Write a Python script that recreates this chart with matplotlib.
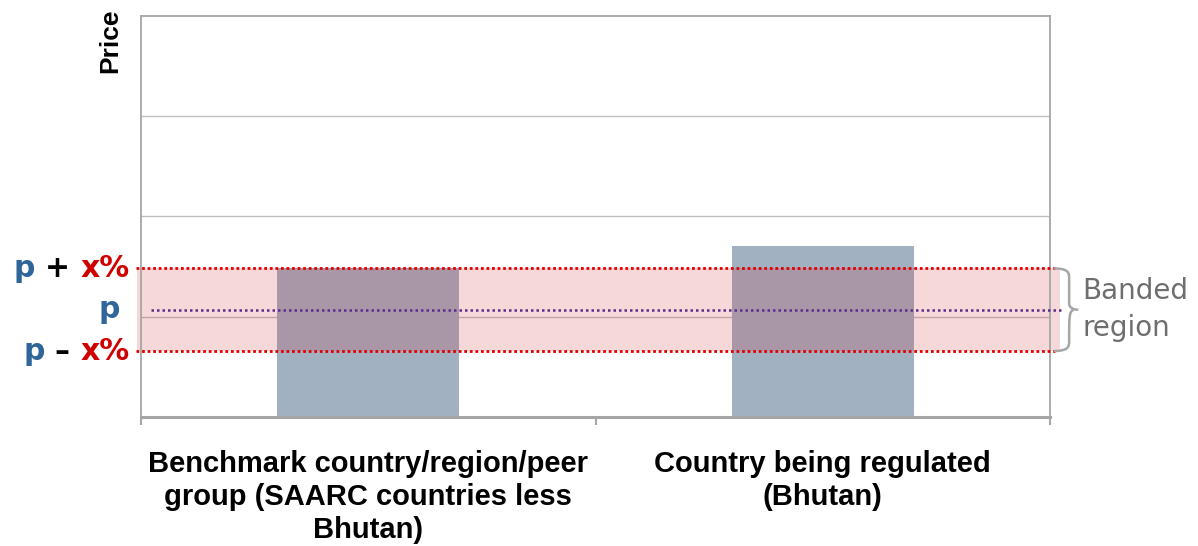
import matplotlib
matplotlib.use("Agg")
import matplotlib.pyplot as plt
import matplotlib.transforms as mtransforms
from matplotlib.path import Path
from matplotlib.patches import PathPatch, Rectangle

# Data
categories = ["Benchmark country/region/peer\ngroup (SAARC countries less\nBhutan)",
              "Country being regulated\n(Bhutan)"]
prices = [1.49, 1.71]
p_value = 1.07
tolerance = 0.385          # fractional band width (x%)
y_max = 4
grid_values = [1, 2, 3]

band_hi = p_value * (1 + tolerance)
band_lo = p_value * (1 - tolerance)

BLUE = "#2F6599"
RED = "#D10000"
BAR = "#A2B1C2"
GRID = "#BFBFBF"
AXIS = "#A6A6A6"

fig = plt.figure(figsize=(11.98, 5.46), dpi=100)
ax = fig.add_axes([0.1177, 0.2363, 0.7588, 0.7344])
ax.set_xlim(-0.5, len(categories) - 0.5)
ax.set_ylim(0, y_max)

# Horizontal gridlines
for g in grid_values:
    ax.axhline(g, color=GRID, lw=1.0, zorder=0)

# Bars
xs = list(range(len(categories)))
ax.bar(xs, prices, width=0.4, color=BAR, zorder=1)

# Banded region (axes-fraction x, data y)
blend = mtransforms.blended_transform_factory(ax.transAxes, ax.transData)
band = Rectangle((-0.0044, band_lo), 1.0154, band_hi - band_lo, transform=blend,
                 facecolor="#CC1C22", alpha=0.17, edgecolor="none",
                 clip_on=False, zorder=2)
ax.add_patch(band)

for yv in (band_hi, band_lo):
    ax.plot([-0.0055, 1.0055], [yv, yv], transform=blend, color="#E00000",
            lw=2.0, dashes=(1, 1), clip_on=False, zorder=3,
            solid_capstyle="butt", dash_capstyle="butt")
ax.plot([0.011, 1.013], [p_value, p_value], transform=blend, color="#5A2D8C",
        lw=1.8, dashes=(1, 1.2), clip_on=False, zorder=3, dash_capstyle="butt")

# Brace to the right of the band
bx0, bx1 = 1.004, 1.026
ymid = p_value
yr = band_hi - band_lo
verts = [
    (bx0, band_hi), (bx1 - 0.005, band_hi), (bx1 - 0.005, band_hi - 0.06 * yr), (bx1 - 0.005, band_hi - 0.12 * yr),
    (bx1 - 0.005, ymid + 0.08 * yr),
    (bx1 - 0.005, ymid + 0.02 * yr), (bx1, ymid), (bx1 + 0.005, ymid),
    (bx1, ymid), (bx1 - 0.005, ymid - 0.02 * yr), (bx1 - 0.005, ymid - 0.08 * yr),
    (bx1 - 0.005, band_lo + 0.12 * yr),
    (bx1 - 0.005, band_lo + 0.06 * yr), (bx1 - 0.005, band_lo), (bx0, band_lo),
]
codes = [Path.MOVETO, Path.CURVE4, Path.CURVE4, Path.CURVE4,
         Path.LINETO,
         Path.CURVE4, Path.CURVE4, Path.LINETO,
         Path.MOVETO, Path.CURVE4, Path.CURVE4,
         Path.LINETO,
         Path.CURVE4, Path.CURVE4, Path.CURVE4]
ax.add_patch(PathPatch(Path(verts, codes), transform=blend, facecolor="none",
                       edgecolor=AXIS, lw=1.8, clip_on=False, zorder=3))

ax.text(1.0352, p_value, "Banded\nregion", transform=blend, ha="left", va="center",
        fontsize=20, color="#6E6E6E", family="DejaVu Sans", linespacing=1.4)

# Left-hand band labels built from coloured pieces
def label_parts(yv, parts, x_right):
    prev = None
    for txt, col in reversed(parts):
        if prev is None:
            prev = ax.text(x_right, yv, txt, transform=blend, ha="right", va="center",
                           fontsize=21.5, fontweight="bold", color=col, family="DejaVu Sans")
        else:
            prev = ax.annotate(txt, xy=(0, 0), xycoords=prev, ha="right", va="bottom",
                               fontsize=21.5, fontweight="bold", color=col,
                               family="DejaVu Sans", annotation_clip=False)

label_parts(band_hi, [("p ", BLUE), ("+ ", "black"), ("x%", RED)], -0.012)
label_parts(p_value, [("p", BLUE)], -0.023)
label_parts(band_lo, [("p ", BLUE), ("\u2013 ", "black"), ("x%", RED)], -0.012)

# Axes styling
for side in ("left", "right", "top", "bottom"):
    ax.spines[side].set_color(AXIS)
    ax.spines[side].set_linewidth(1.3)
ax.spines["bottom"].set_linewidth(2.2)
ax.set_yticks([])
ax.set_xticks(xs)
ax.set_xticklabels(categories, fontsize=21, fontweight="bold",
                   family="Liberation Sans", linespacing=1.22)
ax.tick_params(axis="x", which="major", length=0, pad=24)
ax.set_xticks([-0.5, 0.5, 1.5], minor=True)
ax.tick_params(axis="x", which="minor", length=6, width=1.5, color=AXIS)

ax.text(-0.021, 1.018, "Price", transform=ax.transAxes, rotation=90,
        ha="right", va="top", fontsize=19, fontweight="bold",
        family="Liberation Sans")

fig.savefig("out.png", dpi=100)
